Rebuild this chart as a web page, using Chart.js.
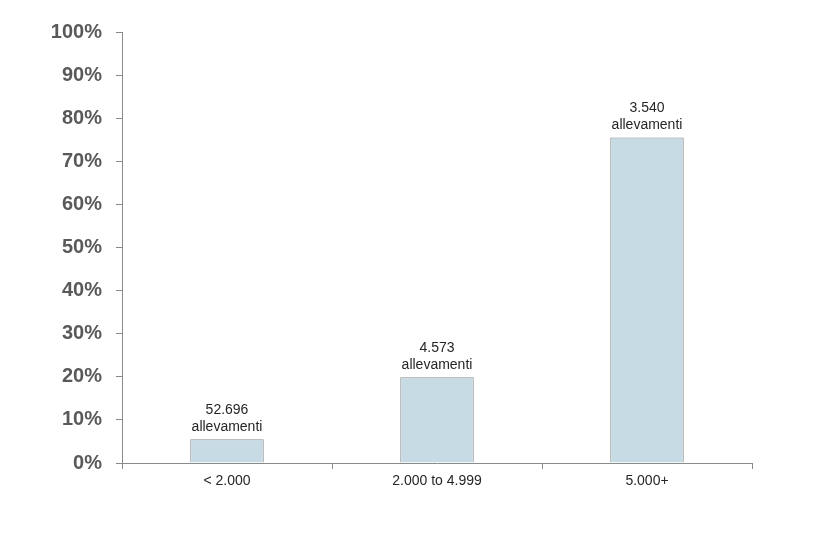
<!DOCTYPE html>
<html>
<head>
<meta charset="utf-8">
<script src="https://cdn.jsdelivr.net/npm/chart.js@4"></script>
<style>
  html, body { margin: 0; padding: 0; background: #fff; }
  #wrap { width: 820px; height: 537px; }
</style>
</head>
<body>
<div id="wrap"><canvas id="chart"></canvas></div>
<script>
const categories = ['< 2.000', '2.000 to 4.999', '5.000+'];
const shares = [5.5, 19.9, 75.5];
const barLabels = [['52.696', 'allevamenti'], ['4.573', 'allevamenti'], ['3.540', 'allevamenti']];

// draws the two-line text over each bar
const barText = {
  id: 'barText',
  afterDatasetsDraw(chart) {
    const ctx = chart.ctx;
    const meta = chart.getDatasetMeta(0);
    ctx.save();
    ctx.font = '14px Arial, "Liberation Sans", sans-serif';
    ctx.fillStyle = '#262626';
    ctx.textAlign = 'center';
    ctx.textBaseline = 'bottom';
    meta.data.forEach((bar, i) => {
      const lines = barLabels[i];
      ctx.fillText(lines[0], bar.x, bar.y - 22);
      ctx.fillText(lines[1], bar.x, bar.y - 5);
    });
    ctx.restore();
  }
};

new Chart(document.getElementById('chart'), {
  type: 'bar',
  data: {
    labels: categories,
    datasets: [{
      data: shares,
      backgroundColor: '#c6dbe3',
      borderColor: '#8a8a8a',
      borderWidth: 1,
      barPercentage: 0.35,
      categoryPercentage: 1
    }]
  },
  options: {
    responsive: true,
    maintainAspectRatio: false,
    animation: false,
    layout: { padding: { top: 32, right: 68, bottom: 44, left: 0 } },
    plugins: { legend: { display: false }, tooltip: { enabled: false } },
    scales: {
      x: {
        afterFit: s => { s.height = 30; },
        grid: { drawOnChartArea: false, offset: true, tickLength: 6, color: '#8a8a8a' },
        border: { color: '#8a8a8a' },
        ticks: { color: '#262626', font: { family: 'Arial, "Liberation Sans", sans-serif', size: 14 }, padding: 4 }
      },
      y: {
        min: 0, max: 100,
        afterFit: s => { s.width = 122; },
        grid: { drawOnChartArea: false, tickLength: 6, color: '#8a8a8a' },
        border: { color: '#8a8a8a' },
        ticks: {
          stepSize: 10,
          padding: 14,
          color: '#595959',
          font: { family: 'Arial, "Liberation Sans", sans-serif', size: 20, weight: 'bold' },
          callback: v => v + '%'
        }
      }
    }
  },
  plugins: [barText]
});
</script>
</body>
</html>
